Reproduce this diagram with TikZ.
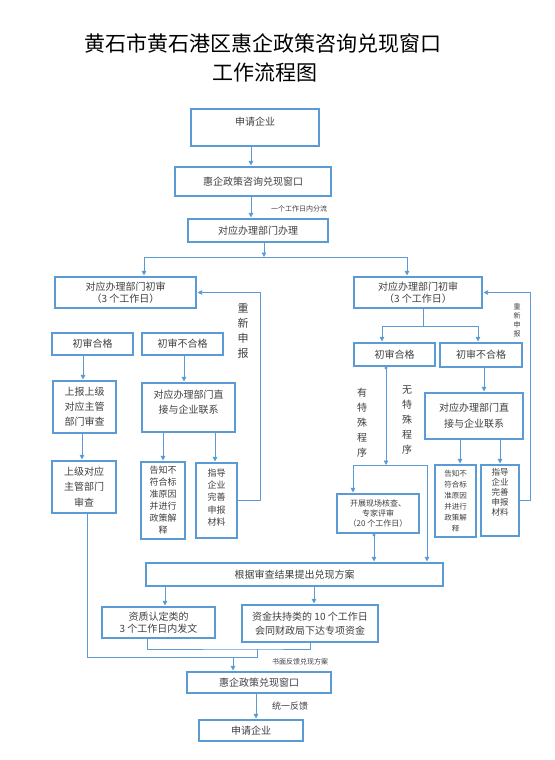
\documentclass[tikz,border=0pt]{standalone}
\usepackage{fontspec}
\setmainfont{Noto Sans CJK SC}
\usetikzlibrary{arrows.meta}
\definecolor{bl}{HTML}{5B9BD5}
\definecolor{tx}{HTML}{404040}
\newcommand{\fsz}[2]{\fontsize{#1pt}{#2pt}\selectfont}
\begin{document}
\begin{tikzpicture}[x=1pt,y=-1pt,
 box/.style={draw=bl,line width=1.1pt,inner sep=1pt,align=center,text=tx,font=\fsz{10}{12}},
 ln/.style={draw=bl,line width=0.8pt},
 arr/.style={ln,-{Triangle[width=4.5pt,length=4.5pt]},shorten >=1pt},
 dotarr/.style={ln,{Circle[length=3pt]}-{Triangle[width=4.5pt,length=4.5pt]},shorten >=1pt},
 lbl/.style={text=tx,inner sep=0pt,align=center}]
\useasboundingbox[fill=white] (0,0) rectangle (554,760);
% title
\node[font=\fsz{21}{25},inner sep=0pt] (t1) at (263,44) {黄石市黄石港区惠企政策咨询兑现窗口};
\node[font=\fsz{21}{25},inner sep=0pt] (t2) at (265,73) {工作流程图};
% boxes
\node[box,minimum width=128,minimum height=37,text depth=12pt] (b1) at (255,127.5) {申请企业};
\node[box,minimum width=156,minimum height=29] (b2) at (253,181.5) {惠企政策咨询兑现窗口};
\node[box,minimum width=140,minimum height=23] (b3) at (258,230.5) {对应办理部门办理};
\node[box,minimum width=141,minimum height=31] (L1) at (125.5,292.5) {对应办理部门初审\\（3 个工作日）};
\node[box,minimum width=128,minimum height=31] (R1) at (418,292.5) {对应办理部门初审\\（3 个工作日）};
\node[box,minimum width=81,minimum height=22] (L2a) at (92.5,344) {初审合格};
\node[box,minimum width=81,minimum height=22] (L2b) at (182.5,344) {初审不合格};
\node[box,minimum width=63,minimum height=52,font=\fsz{10}{15}] (L3a) at (84.5,407) {上报上级\\对应主管\\部门审查};
\node[box,minimum width=93,minimum height=49,font=\fsz{10}{15},text depth=11pt] (L3b) at (188.5,407.5) {对应办理部门直\\接与企业联系};
\node[box,minimum width=64,minimum height=52,font=\fsz{10}{15.5}] (L4a) at (84,487) {上级对应\\主管部门\\审查};
\node[box,minimum width=44,minimum height=77,font=\fsz{9}{12}] (L4b) at (163,500.5) {告知不\\符合标\\准原因\\并进行\\政策解\\释};
\node[box,minimum width=41,minimum height=75,font=\fsz{9}{12.3},text depth=7pt] (L4c) at (216.5,500.5) {指导\\企业\\完善\\申报\\材料};
\node[box,minimum width=81,minimum height=23] (R2a) at (394.5,354.5) {初审合格};
\node[box,minimum width=82,minimum height=24] (R2b) at (481,355) {初审不合格};
\node[box,minimum width=98,minimum height=46,font=\fsz{10}{16}] (R3) at (474,416) {对应办理部门直\\接与企业联系};
\node[box,minimum width=41,minimum height=72,font=\fsz{7.5}{11}] (R4a) at (455.5,501) {告知不\\符合标\\准原因\\并进行\\政策解\\释};
\node[box,minimum width=38,minimum height=71,font=\fsz{8.5}{10},text depth=17pt] (R4b) at (500,500.5) {指导\\企业\\完善\\申报\\材料};
\node[box,minimum width=82,minimum height=39,font=\fsz{8}{10}] (R5) at (378,513.5) {开展现场核查、\\专家评审\\（20 个工作日）};
\node[box,minimum width=297,minimum height=23] (B1) at (294.5,574.5) {根据审查结果提出兑现方案};
\node[box,minimum width=113,minimum height=31] (B2) at (158.5,622.5) {资质认定类的\\3 个工作日内发文};
\node[box,minimum width=136,minimum height=37,font=\fsz{10}{14}] (B3) at (310,623.5) {资金扶持类的 10 个工作日\\会同财政局下达专项资金};
\node[box,minimum width=144,minimum height=21] (B4) at (259,682.5) {惠企政策兑现窗口};
\node[box,minimum width=104,minimum height=21] (B5) at (251,730.5) {申请企业};
% labels
\node[lbl,font=\fsz{7}{8},anchor=west] (n1) at (271,209) {一个工作日内分流};
\node[lbl,font=\fsz{11}{15}] (n2) at (243,330.5) {重\\新\\申\\报};
\node[lbl,font=\fsz{7}{8}] (n3) at (300,662) {书面反馈兑现方案};
\node[lbl,font=\fsz{9}{10}] (n4) at (290,706) {统一反馈};
\node[lbl,font=\fsz{7}{9}] (n5) at (517,320) {重\\新\\申\\报};
\node[lbl,font=\fsz{10}{15}] (n6) at (362,423) {有\\特\\殊\\程\\序};
\node[lbl,font=\fsz{10}{15}] (n7) at (407,420) {无\\特\\殊\\程\\序};
% top connectors
\draw[arr] ([xshift=-4]b1.south) -- ([xshift=-4]b1.south |- b2.north);
\draw[arr] ([xshift=-2]b2.south) -- ([xshift=-2]b2.south |- b3.north);
\coordinate (j) at (264,257);
\draw[arr,shorten >=0pt] ([xshift=6]b3.south) -- (j);
\draw[arr] (j) -| ([xshift=18.5]L1.north);
\draw[arr] (j) -| ([xshift=-11]R1.north);
% left branch
\draw[arr] ([xshift=-9.5]L2a.south) -- ([xshift=-9.5]L2a.south |- L3a.north);
\draw[arr] ([xshift=1.5]L2b.south) -- ([xshift=1.5]L2b.south |- L3b.north);
\draw[arr] ([xshift=-2]L4a.north |- L3a.south) -- ([xshift=-2]L4a.north);
\draw[arr] (L4b.north |- L3b.south) -- (L4b.north);
\draw[arr] ([xshift=-1.5]L4c.north |- L3b.south) -- ([xshift=-1.5]L4c.north);
\draw[arr] (L4c.east) -- ++(22.5,0) |- (L1.east);
% right branch
\coordinate (r1) at (423,326);
\draw[ln] ([xshift=5]R1.south) -- (r1);
\draw[arr] (r1) -| ([xshift=-12.5]R2a.north);
\draw[arr] (r1) -| ([xshift=-3]R2b.north);
\draw[arr] ([xshift=3]R2b.south) -- ([xshift=3]R2b.south |- R3.north);
\draw[arr] ([xshift=4.5]R4a.north |- R3.south) -- ([xshift=4.5]R4a.north);
\draw[arr] (R4b.north |- R3.south) -- (R4b.north);
\draw[arr] (R4b.east) -- ++(11,0) |- (R1.east);
\coordinate (r2) at (386,465);
\coordinate (r3) at (427,465);
\draw[dotarr,shorten >=0pt] ([xshift=-8.5]R2a.south) -- (r2);
\draw[arr] (r2) -| ([xshift=-25]R5.north);
\draw[arr] (r2) -- (r3) -- (r3 |- B1.north);
\draw[dotarr] ([xshift=-4]R5.south) -- ([xshift=-4]R5.south |- B1.north);
% bottom
\draw[arr] ([xshift=6.5]B2.north |- B1.south) -- ([xshift=6.5]B2.north);
\draw[arr] ([xshift=4]B3.north |- B1.south) -- ([xshift=4]B3.north);
\coordinate (m1) at (257,657);
\coordinate (m2) at (257,649);
\coordinate (m3) at (233,657);
\draw[ln] ([xshift=3]L4a.south) |- (m1) -- (m2);
\draw[ln] ([xshift=-11.5]B2.south) |- (m2) -| (B3.south);
\draw[arr] (m3) -- (m3 |- B4.north);
\draw[arr] ([xshift=-3]B4.south) -- ([xshift=-3]B4.south |- B5.north);
\end{tikzpicture}
\end{document}
